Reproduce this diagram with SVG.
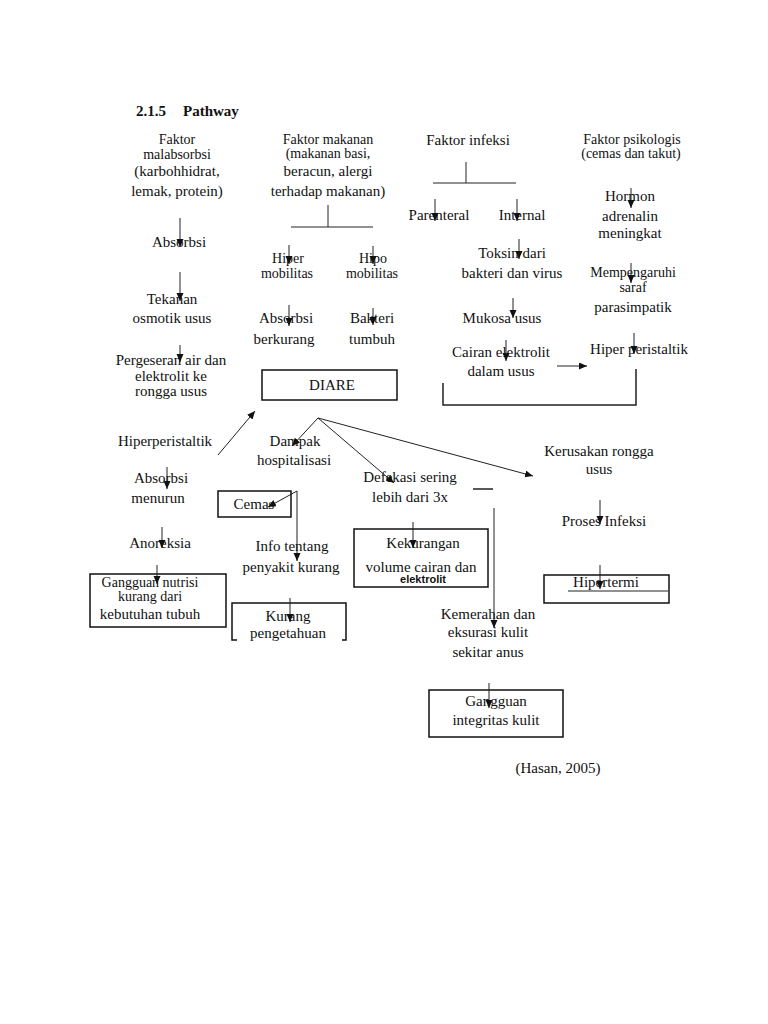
<svg xmlns="http://www.w3.org/2000/svg" width="768" height="1024" viewBox="0 0 768 1024">
<style>
text{font-family:"Liberation Serif","Times New Roman",serif;font-size:15px;fill:#111;text-anchor:middle}
.t{text-anchor:start;font-weight:bold}
.tight{font-size:14px}
.sm{font-family:"Liberation Sans",Arial,sans-serif;font-size:11px;font-weight:bold}
.box{fill:none;stroke:#111;stroke-width:1.5}
.ln{fill:none;stroke:#222;stroke-width:1}
.ar{fill:none;stroke:#222;stroke-width:1;marker-end:url(#ah)}
</style>
<defs>
<marker id="ah" markerUnits="userSpaceOnUse" markerWidth="9" markerHeight="8" refX="8" refY="3.5" orient="auto">
<path d="M0,0 L8,3.5 L0,7 z" fill="#111"/>
</marker>
</defs>
<rect width="768" height="1024" fill="#fff"/>

<g id="title"><text class="t" x="136" y="116">2.1.5</text><text class="t" x="183" y="116">Pathway</text></g>

<g id="n-malabsorbsi"><text class="tight" x="177" y="144">Faktor</text><text class="tight" x="177" y="159">malabsorbsi</text><text x="177" y="176">(karbohhidrat,</text><text x="177" y="196">lemak, protein)</text></g>
<g id="n-absorbsi1"><text x="179" y="247">Absorbsi</text></g>
<g id="n-tekanan"><text x="172" y="304">Tekanan</text><text x="172" y="323">osmotik usus</text></g>
<g id="n-pergeseran"><text x="171" y="365">Pergeseran air dan</text><text x="171" y="381">elektrolit ke</text><text x="171" y="396">rongga usus</text></g>
<g id="n-hiperperistaltik"><text x="165" y="446">Hiperperistaltik</text></g>
<g id="n-absorbsi-menurun"><text x="161" y="483">Absorbsi</text><text x="158" y="503">menurun</text></g>
<g id="n-anoreksia"><text x="160" y="548">Anoreksia</text></g>
<g id="n-nutrisi"><rect class="box" x="90" y="574" width="136" height="53"/><text class="tight" x="150" y="587">Gangguan nutrisi</text><text class="tight" x="150" y="601">kurang dari</text><text x="150" y="619">kebutuhan tubuh</text></g>

<g id="n-makanan"><text class="tight" x="328" y="144">Faktor makanan</text><text class="tight" x="328" y="158">(makanan basi,</text><text x="328" y="176">beracun, alergi</text><text x="328" y="196">terhadap makanan)</text></g>
<g id="n-hiper-mob"><text class="tight" x="288" y="263">Hiper</text><text class="tight" x="287" y="278">mobilitas</text></g>
<g id="n-hipo-mob"><text class="tight" x="373" y="263">Hipo</text><text class="tight" x="372" y="278">mobilitas</text></g>
<g id="n-absorbsi-berkurang"><text x="286" y="323">Absorbsi</text><text x="284" y="344">berkurang</text></g>
<g id="n-bakteri"><text x="372" y="323">Bakteri</text><text x="372" y="344">tumbuh</text></g>
<g id="n-diare"><rect class="box" x="262" y="370" width="135" height="30"/><text x="332" y="390">DIARE</text></g>
<g id="n-dampak"><text x="295" y="446">Dampak</text><text x="294" y="465">hospitalisasi</text></g>
<g id="n-cemas"><rect class="box" x="218" y="491" width="73" height="26"/><text x="254" y="509">Cemas</text></g>
<g id="n-info"><text x="292" y="551">Info tentang</text><text x="291" y="572">penyakit kurang</text></g>
<g id="n-kurang-pengetahuan"><path class="box" d="M237,640 H232 V603 H346 V640 H342"/><text x="288" y="621">Kurang</text><text x="288" y="638">pengetahuan</text></g>

<g id="n-infeksi"><text x="468" y="145">Faktor infeksi</text></g>
<g id="n-parenteral"><text x="439" y="220">Parenteral</text></g>
<g id="n-internal"><text x="522" y="220">Internal</text></g>
<g id="n-toksin"><text x="512" y="258">Toksin dari</text><text x="512" y="278">bakteri dan virus</text></g>
<g id="n-mukosa"><text x="502" y="323">Mukosa usus</text></g>
<g id="n-cairan"><text x="501" y="357">Cairan elektrolit</text><text x="501" y="376">dalam usus</text></g>
<g id="n-defekasi"><text x="410" y="482">Defekasi sering</text><text x="410" y="502">lebih dari 3x</text></g>
<g id="n-kekurangan"><rect class="box" x="354" y="529" width="134" height="58"/><text x="423" y="548">Kekurangan</text><text x="421" y="572">volume cairan dan</text><text class="sm" x="423" y="583">elektrolit</text></g>
<g id="n-kemerahan"><text x="488" y="619">Kemerahan dan</text><text x="488" y="637">eksurasi kulit</text><text x="488" y="657">sekitar anus</text></g>
<g id="n-integritas"><rect class="box" x="429" y="690" width="134" height="47"/><text x="496" y="706">Gangguan</text><text x="496" y="725">integritas kulit</text></g>
<g id="n-source"><text x="558" y="773">(Hasan, 2005)</text></g>

<g id="n-psikologis"><text class="tight" x="632" y="144">Faktor psikologis</text><text class="tight" x="631" y="158">(cemas dan takut)</text></g>
<g id="n-hormon"><text x="630" y="201">Hormon</text><text x="630" y="221">adrenalin</text><text x="630" y="238">meningkat</text></g>
<g id="n-mempengaruhi"><text class="tight" x="633" y="277">Mempengaruhi</text><text class="tight" x="633" y="292">saraf</text><text x="633" y="312">parasimpatik</text></g>
<g id="n-hiper-peristaltik"><text x="639" y="354">Hiper peristaltik</text></g>
<g id="n-kerusakan"><text x="599" y="456">Kerusakan rongga</text><text x="599" y="474">usus</text></g>
<g id="n-proses"><text x="604" y="526">Proses Infeksi</text></g>
<g id="n-hipertermi"><rect class="box" x="544" y="575" width="125" height="28"/><text x="606" y="587">Hipertermi</text></g>

<g id="connectors">
<line class="ar" x1="180" y1="218" x2="180" y2="247"/>
<line class="ar" x1="180" y1="272" x2="180" y2="301"/>
<line class="ar" x1="180" y1="345" x2="180" y2="362"/>
<line class="ar" x1="218" y1="455" x2="255" y2="411"/>
<line class="ar" x1="167" y1="467" x2="167" y2="489"/>
<line class="ar" x1="162" y1="527" x2="162" y2="548"/>
<line class="ar" x1="157" y1="565" x2="157" y2="584"/>

<line class="ln" x1="328" y1="205" x2="328" y2="227"/>
<line class="ln" x1="291" y1="227" x2="373" y2="227"/>
<line class="ar" x1="289" y1="245" x2="289" y2="264"/>
<line class="ar" x1="373" y1="246" x2="373" y2="264"/>
<line class="ar" x1="289" y1="305" x2="289" y2="326"/>
<line class="ar" x1="373" y1="308" x2="373" y2="325"/>

<line class="ar" x1="318" y1="418" x2="292" y2="446"/>
<line class="ar" x1="318" y1="418" x2="394" y2="483"/>
<line class="ar" x1="318" y1="418" x2="533" y2="476"/>
<line class="ar" x1="297" y1="491" x2="268" y2="507"/>
<line class="ar" x1="297" y1="491" x2="297" y2="561"/>
<line class="ar" x1="290" y1="598" x2="290" y2="622"/>

<line class="ln" x1="466" y1="162" x2="466" y2="183"/>
<line class="ln" x1="433" y1="183" x2="516" y2="183"/>
<line class="ar" x1="435" y1="199" x2="435" y2="221"/>
<line class="ar" x1="517" y1="199" x2="517" y2="221"/>
<line class="ar" x1="519" y1="239" x2="519" y2="259"/>
<line class="ar" x1="513" y1="298" x2="513" y2="318"/>
<line class="ar" x1="506" y1="340" x2="506" y2="361"/>
<line class="ar" x1="557" y1="366" x2="587" y2="366"/>
<path class="ln" d="M443,383 V405 H636 V369" style="stroke-width:1.5"/>

<line class="ar" x1="631" y1="188" x2="631" y2="208"/>
<line class="ar" x1="631" y1="263" x2="631" y2="283"/>
<line class="ar" x1="634" y1="333" x2="634" y2="354"/>

<line class="ar" x1="600" y1="500" x2="600" y2="524"/>
<line class="ar" x1="600" y1="565" x2="600" y2="589"/>
<line class="ln" x1="568" y1="591" x2="668" y2="591"/>

<line class="ln" x1="473" y1="489" x2="493" y2="489" style="stroke-width:1.5"/>
<line class="ar" x1="413" y1="522" x2="413" y2="548"/>
<line class="ar" x1="494" y1="508" x2="494" y2="628"/>
<line class="ar" x1="489" y1="683" x2="489" y2="708"/>
</g>
</svg>
